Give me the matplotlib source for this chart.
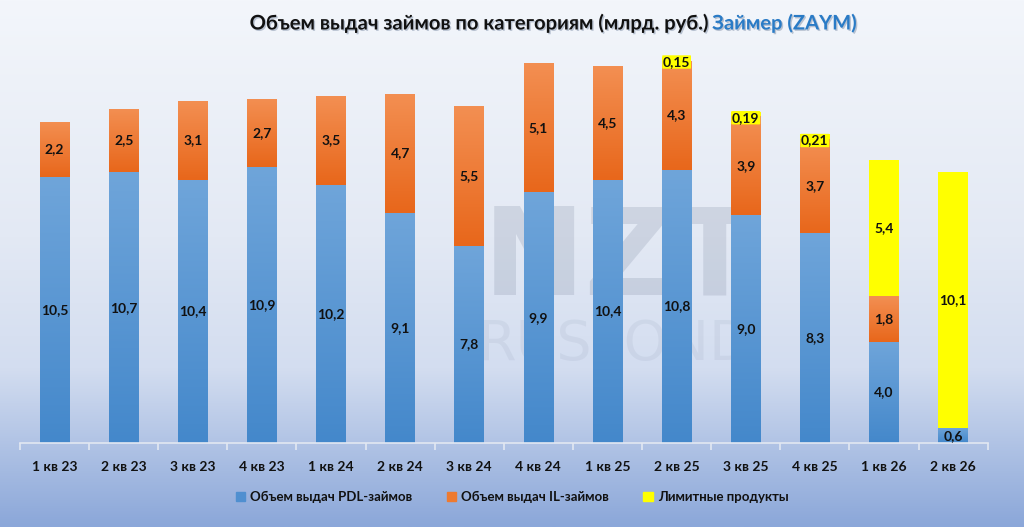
import matplotlib.pyplot as plt
import matplotlib.patheffects as pe
import numpy as np
from matplotlib.colors import LinearSegmentedColormap
from matplotlib.patches import Patch

plt.rcParams['font.family'] = ['Lato', 'DejaVu Sans']

quarters = ['1 кв 23', '2 кв 23', '3 кв 23', '4 кв 23', '1 кв 24', '2 кв 24', '3 кв 24',
            '4 кв 24', '1 кв 25', '2 кв 25', '3 кв 25', '4 кв 25', '1 кв 26', '2 кв 26']
pdl = [10.5, 10.7, 10.4, 10.9, 10.2, 9.1, 7.8, 9.9, 10.4, 10.8, 9.0, 8.3, 4.0, 0.6]
il = [2.2, 2.5, 3.1, 2.7, 3.5, 4.7, 5.5, 5.1, 4.5, 4.3, 3.9, 3.7, 1.8, 0]
limit = [0, 0, 0, 0, 0, 0, 0, 0, 0, 0.15, 0.19, 0.21, 5.4, 10.1]

series_names = ['Объем выдач PDL-займов', 'Объем выдач IL-займов', 'Лимитные продукты']

fig = plt.figure(figsize=(10.24, 5.27), dpi=100)

# фон - градиент
bg = fig.add_axes([0, 0, 1, 1])
bg_cmap = LinearSegmentedColormap.from_list('bg', [(0, '#f3f6fb'), (0.45, '#e3e9f4'),
                                                   (0.7, '#d3ddf0'), (1, '#8ba7d9')])
bg.imshow(np.linspace(0, 1, 256).reshape(-1, 1), aspect='auto', cmap=bg_cmap,
          extent=[0, 1, 0, 1], origin='upper')
bg.set_axis_off()

# водяной знак
bg.text(0.605, 0.505, 'NZT', fontsize=88, fontweight='bold', color='#4a5a78', alpha=0.15,
        ha='center', va='center', family='DejaVu Sans')
bg.text(0.6, 0.345, 'RUSFOND', fontsize=40, color='#4a5a78', alpha=0.07,
        ha='center', va='center', family='DejaVu Sans')

ax = fig.add_axes([0.0195, 0.159, 0.945, 0.769])
ax.set_facecolor('none')
x = np.arange(len(quarters))
w = 0.43

pdl = np.array(pdl)
il = np.array(il)
limit = np.array(limit)

grad = np.linspace(0, 1, 100).reshape(-1, 1)
cm_blue = LinearSegmentedColormap.from_list('b', ['#6fa5da', '#4488cb'])
cm_orange = LinearSegmentedColormap.from_list('o', ['#f38f52', '#e8671b'])


def gradient_bars(bottoms, heights, cmap):
    bars = ax.bar(x, heights, w, bottom=bottoms, color='none', edgecolor='none', zorder=2)
    for b in bars:
        if b.get_height() <= 0:
            continue
        x0, y0 = b.get_x(), b.get_y()
        im = ax.imshow(grad, cmap=cmap, aspect='auto', origin='upper',
                       extent=[x0, x0 + b.get_width(), y0, y0 + b.get_height()], zorder=2)
        im.set_clip_path(b)
    return bars


gradient_bars(0, pdl, cm_blue)
gradient_bars(pdl, il, cm_orange)
ax.bar(x, limit, w, bottom=pdl + il, color='#ffff00', zorder=2)

lbl = dict(ha='center', va='center', fontsize=10, fontweight='bold', color='#111111', zorder=4)
for i in range(len(x)):
    ax.text(x[i], pdl[i] / 2, f'{pdl[i]:.1f}'.replace('.', ','), **lbl)
    if il[i] > 0:
        ax.text(x[i], pdl[i] + il[i] / 2, f'{il[i]:.1f}'.replace('.', ','), **lbl)
    if limit[i] > 1:
        ax.text(x[i], pdl[i] + il[i] + limit[i] / 2, f'{limit[i]:.1f}'.replace('.', ','), **lbl)
    elif limit[i] > 0:
        ax.text(x[i], pdl[i] + il[i] - 0.05, f'{limit[i]:.2f}'.replace('.', ','),
                bbox=dict(boxstyle='round,pad=0.05', fc='#ffff00', ec='none'), **lbl)

ax.set_xlim(-0.5, len(x) - 0.5)
ax.set_ylim(0, 16)
for s in ['top', 'right', 'left']:
    ax.spines[s].set_visible(False)
ax.spines['bottom'].set_color('#e2e8f2')
ax.spines['bottom'].set_linewidth(1.2)
ax.set_yticks([])
ax.set_xticks(x)
ax.set_xticklabels(quarters, fontsize=10, fontweight='bold', color='#111111')
ax.tick_params(axis='x', length=0, pad=13)
ax.set_xticks(np.arange(-0.5, len(x)), minor=True)
ax.tick_params(axis='x', which='minor', length=5, color='#e2e8f2', width=1.2)

handles = [Patch(color='#4f8fd0'), Patch(color='#ee7a30'), Patch(color='#ffff00')]
leg = fig.legend(handles, series_names, loc='center', bbox_to_anchor=(0.5, 0.057), ncol=3,
                 frameon=False, fontsize=9.5, handlelength=0.7, handleheight=0.7,
                 handletextpad=0.4, columnspacing=2.6)
for t in leg.get_texts():
    t.set_fontweight('bold')
    t.set_color('#111111')

shadow = [pe.withSimplePatchShadow(offset=(1, -1), shadow_rgbFace='#8090a8', alpha=0.5)]
fig.text(0.6925, 0.956, 'Объем выдач займов по категориям (млрд. руб.)', ha='right', va='center',
         fontsize=14.5, fontweight='bold', color='#111111', path_effects=shadow)
fig.text(0.6955, 0.956, 'Займер (ZAYM)', ha='left', va='center',
         fontsize=14.5, fontweight='bold', color='#2a7bc6', path_effects=shadow)

fig.savefig('out.png', dpi=100)
